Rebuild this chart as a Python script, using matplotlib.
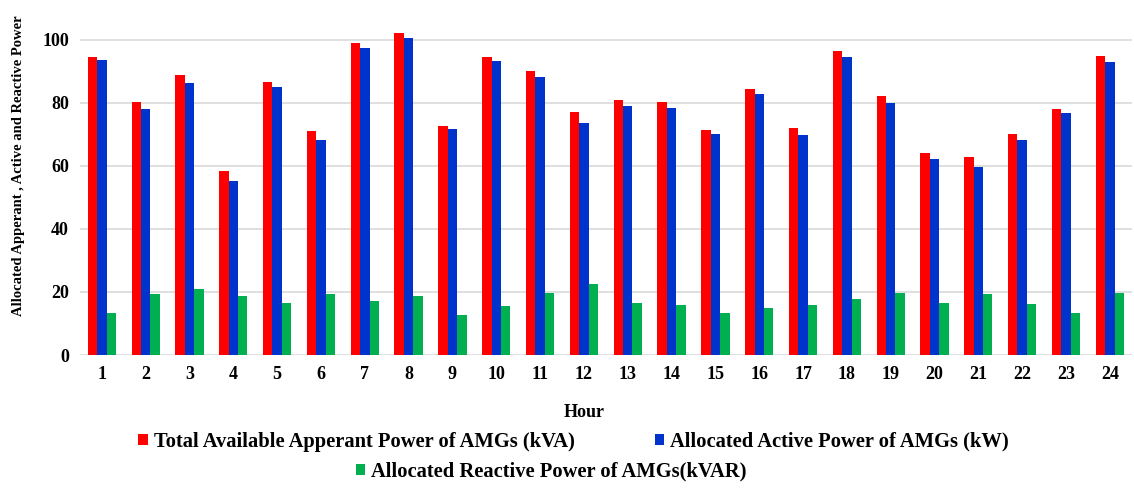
import matplotlib
matplotlib.use("Agg")
import matplotlib.pyplot as plt
import numpy as np

hours = [str(h) for h in range(1, 25)]
apparent = [94.6, 80.2, 88.7, 58.4, 86.7, 70.9, 98.9, 102.1, 72.6, 94.5, 90.1, 77.1,
            80.9, 80.1, 71.3, 84.3, 72.0, 96.3, 82.2, 64.1, 62.7, 70.2, 78.1, 94.9]
active = [93.5, 77.9, 86.4, 55.3, 85.0, 68.2, 97.2, 100.4, 71.7, 93.2, 88.0, 73.7,
          79.1, 78.4, 70.2, 82.9, 69.9, 94.5, 79.8, 62.0, 59.6, 68.2, 76.8, 92.9]
reactive = [13.4, 19.3, 20.9, 18.6, 16.5, 19.3, 17.2, 18.6, 12.8, 15.5, 19.6, 22.4,
            16.5, 15.8, 13.4, 14.8, 15.8, 17.8, 19.8, 16.5, 19.2, 16.2, 13.4, 19.8]
labels = ["Total Available Apperant Power of AMGs (kVA)",
          "Allocated Active Power of AMGs (kW)",
          "Allocated Reactive Power of AMGs(kVAR)"]
colors = ["#FF0000", "#0033CC", "#00B050"]

plt.rcParams["font.family"] = "Liberation Serif"
plt.rcParams["font.weight"] = "bold"

fig = plt.figure(figsize=(11.34, 4.9), dpi=100)
ax = fig.add_axes([0.0705, 0.2755, 0.9275, 0.708])

x = np.arange(1, 25)
w = 0.215
b1 = ax.bar(x - w, apparent, w, color=colors[0], label=labels[0])
b2 = ax.bar(x, active, w, color=colors[1], label=labels[1])
b3 = ax.bar(x + w, reactive, w, color=colors[2], label=labels[2])

ax.set_xlim(0.5, 24.5)
ax.set_ylim(0, 110)
ax.set_yticks([0, 20, 40, 60, 80, 100])
ax.set_xticks(x)
ax.set_xticklabels(hours)
ax.yaxis.grid(True, color="#D9D9D9", linewidth=1.2)
ax.set_axisbelow(True)
for s in ["top", "right", "left", "bottom"]:
    ax.spines[s].set_visible(False)
ax.tick_params(axis="both", length=0, labelsize=13, pad=8)
for t in ax.get_xticklabels() + ax.get_yticklabels():
    t.set_fontweight("bold")

ax.set_ylabel("Allocated Apperant , Active and Reactive Power", fontsize=10.5,
              fontweight="bold")
ax.yaxis.set_label_coords(-0.052, 0.545)
fig.text(0.515, 0.159, "Hour", ha="center", va="center", fontsize=13, fontweight="bold")

leg_kw = dict(frameon=False, fontsize=14.8, handlelength=0.45, handleheight=0.45,
              handletextpad=0.3, borderpad=0, borderaxespad=0)
leg1 = fig.legend(handles=[b1, b2], loc="center", bbox_to_anchor=(0.506, 0.098), ncol=2,
                  columnspacing=3.9, **leg_kw)
leg2 = fig.legend(handles=[b3], loc="center", bbox_to_anchor=(0.486, 0.037), **leg_kw)

fig.savefig("out.png", dpi=100)
